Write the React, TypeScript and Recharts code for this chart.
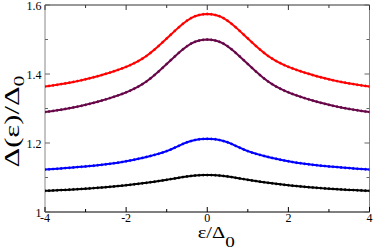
import React from 'react';
import { LineChart, Line, XAxis, YAxis } from 'recharts';

const epsilon = [
  -4.0, -3.9, -3.8, -3.7, -3.6, -3.5, -3.4, -3.3, -3.2, -3.1,
  -3.0, -2.9, -2.8, -2.7, -2.6, -2.5, -2.4, -2.3, -2.2, -2.1,
  -2.0, -1.9, -1.8, -1.7, -1.6, -1.5, -1.4, -1.3, -1.2, -1.1,
  -1.0, -0.9, -0.8, -0.7, -0.6, -0.5, -0.4, -0.3, -0.2, -0.1,
  0.0,
  0.1, 0.2, 0.3, 0.4, 0.5, 0.6, 0.7, 0.8, 0.9, 1.0,
  1.1, 1.2, 1.3, 1.4, 1.5, 1.6, 1.7, 1.8, 1.9, 2.0,
  2.1, 2.2, 2.3, 2.4, 2.5, 2.6, 2.7, 2.8, 2.9, 3.0,
  3.1, 3.2, 3.3, 3.4, 3.5, 3.6, 3.7, 3.8, 3.9, 4.0,
];

const redGap = [
  1.3637, 1.3653, 1.3670, 1.3688, 1.3707, 1.3727, 1.3748, 1.3770, 1.3794, 1.3819,
  1.3846, 1.3875, 1.3905, 1.3937, 1.3970, 1.4005, 1.4041, 1.4079, 1.4119, 1.4162,
  1.4208, 1.4258, 1.4314, 1.4376, 1.4445, 1.4522, 1.4612, 1.4709, 1.4812, 1.4920,
  1.5030, 1.5140, 1.5250, 1.5355, 1.5455, 1.5545, 1.5620, 1.5675, 1.5710, 1.5730,
  1.5740,
  1.5730, 1.5710, 1.5675, 1.5620, 1.5545, 1.5455, 1.5355, 1.5250, 1.5140, 1.5030,
  1.4920, 1.4812, 1.4709, 1.4612, 1.4522, 1.4445, 1.4376, 1.4314, 1.4258, 1.4208,
  1.4162, 1.4119, 1.4079, 1.4041, 1.4005, 1.3970, 1.3937, 1.3905, 1.3875, 1.3846,
  1.3819, 1.3794, 1.3770, 1.3748, 1.3727, 1.3707, 1.3688, 1.3670, 1.3653, 1.3637,
];

const purpleGap = [
  1.2897, 1.2913, 1.2930, 1.2948, 1.2967, 1.2987, 1.3008, 1.3030, 1.3054, 1.3079,
  1.3106, 1.3135, 1.3165, 1.3197, 1.3230, 1.3265, 1.3301, 1.3339, 1.3379, 1.3422,
  1.3468, 1.3518, 1.3574, 1.3636, 1.3705, 1.3782, 1.3872, 1.3969, 1.4072, 1.4180,
  1.4290, 1.4400, 1.4510, 1.4615, 1.4715, 1.4805, 1.4880, 1.4935, 1.4970, 1.4990,
  1.5000,
  1.4990, 1.4970, 1.4935, 1.4880, 1.4805, 1.4715, 1.4615, 1.4510, 1.4400, 1.4290,
  1.4180, 1.4072, 1.3969, 1.3872, 1.3782, 1.3705, 1.3636, 1.3574, 1.3518, 1.3468,
  1.3422, 1.3379, 1.3339, 1.3301, 1.3265, 1.3230, 1.3197, 1.3165, 1.3135, 1.3106,
  1.3079, 1.3054, 1.3030, 1.3008, 1.2987, 1.2967, 1.2948, 1.2930, 1.2913, 1.2897,
];

const blueGap = [
  1.1230, 1.1238, 1.1246, 1.1254, 1.1263, 1.1272, 1.1281, 1.1291, 1.1301, 1.1311,
  1.1321, 1.1332, 1.1343, 1.1355, 1.1368, 1.1382, 1.1397, 1.1413, 1.1430, 1.1449,
  1.1470, 1.1493, 1.1517, 1.1542, 1.1568, 1.1595, 1.1624, 1.1655, 1.1688, 1.1724,
  1.1765, 1.1812, 1.1864, 1.1919, 1.1973, 1.2020, 1.2057, 1.2087, 1.2107, 1.2117,
  1.2120,
  1.2117, 1.2107, 1.2087, 1.2057, 1.2020, 1.1973, 1.1919, 1.1864, 1.1812, 1.1765,
  1.1724, 1.1688, 1.1655, 1.1624, 1.1595, 1.1568, 1.1542, 1.1517, 1.1493, 1.1470,
  1.1449, 1.1430, 1.1413, 1.1397, 1.1382, 1.1368, 1.1355, 1.1343, 1.1332, 1.1321,
  1.1311, 1.1301, 1.1291, 1.1281, 1.1272, 1.1263, 1.1254, 1.1246, 1.1238, 1.1230,
];

const blackGap = [
  1.0614, 1.0619, 1.0624, 1.0629, 1.0635, 1.0641, 1.0647, 1.0654, 1.0661, 1.0668,
  1.0676, 1.0684, 1.0692, 1.0701, 1.0710, 1.0720, 1.0730, 1.0741, 1.0752, 1.0764,
  1.0776, 1.0789, 1.0802, 1.0816, 1.0831, 1.0846, 1.0862, 1.0879, 1.0897, 1.0915,
  1.0934, 1.0953, 1.0973, 1.0993, 1.1012, 1.1030, 1.1045, 1.1057, 1.1065, 1.1069,
  1.1070,
  1.1069, 1.1065, 1.1057, 1.1045, 1.1030, 1.1012, 1.0993, 1.0973, 1.0953, 1.0934,
  1.0915, 1.0897, 1.0879, 1.0862, 1.0846, 1.0831, 1.0816, 1.0802, 1.0789, 1.0776,
  1.0764, 1.0752, 1.0741, 1.0730, 1.0720, 1.0710, 1.0701, 1.0692, 1.0684, 1.0676,
  1.0668, 1.0661, 1.0654, 1.0647, 1.0641, 1.0635, 1.0629, 1.0624, 1.0619, 1.0614,
];

const xTicks = [-4, -3, -2, -1, 0, 1, 2, 3, 4];
const xMajor = [-4, -2, 0, 2, 4];
const xMajorLabels = ['-4', '-2', '0', '2', '4'];
const yTicks = [1, 1.1, 1.2, 1.3, 1.4, 1.5, 1.6];
const yMajor = [1, 1.2, 1.4, 1.6];
const yMajorLabels = ['1', '1.2', '1.4', '1.6'];

const data = epsilon.map((x, i) => ({
  x,
  red: redGap[i],
  purple: purpleGap[i],
  blue: blueGap[i],
  black: blackGap[i],
}));

const FONT = '"Liberation Serif", "Times New Roman", serif';
const MAJOR_LEN = 5;
const MINOR_LEN = 3;

const majorIndex = (v: number, majors: number[]) =>
  majors.findIndex((m) => Math.abs(m - v) < 1e-6);

const BottomTick = (props: any) => {
  const { x, y, payload } = props;
  const mi = majorIndex(payload.value, xMajor);
  const len = mi >= 0 ? MAJOR_LEN : MINOR_LEN;
  return (
    <g>
      <line x1={x} y1={y} x2={x} y2={y - len} stroke="#000" strokeWidth={1} />
      {mi >= 0 && (
        <text x={x} y={y + 10} textAnchor="middle" fontFamily={FONT} fontSize={12} fill="#000">
          {xMajorLabels[mi]}
        </text>
      )}
    </g>
  );
};

const TopTick = (props: any) => {
  const { x, y, payload } = props;
  const len = majorIndex(payload.value, xMajor) >= 0 ? MAJOR_LEN : MINOR_LEN;
  return <line x1={x} y1={y} x2={x} y2={y + len} stroke="#333" strokeWidth={1} />;
};

const LeftTick = (props: any) => {
  const { x, y, payload } = props;
  const mi = majorIndex(payload.value, yMajor);
  const len = mi >= 0 ? MAJOR_LEN : MINOR_LEN;
  return (
    <g>
      <line x1={x} y1={y} x2={x + len} y2={y} stroke="#666" strokeWidth={1} />
      {mi >= 0 && (
        <text x={x - 3.5} y={y + 4.5} textAnchor="end" fontFamily={FONT} fontSize={12} fill="#000">
          {yMajorLabels[mi]}
        </text>
      )}
    </g>
  );
};

const RightTick = (props: any) => {
  const { x, y, payload } = props;
  const len = majorIndex(payload.value, yMajor) >= 0 ? MAJOR_LEN : MINOR_LEN;
  return <line x1={x} y1={y} x2={x - len} y2={y} stroke="#666" strokeWidth={1} />;
};

const XLabel = (props: any) => {
  const vb = props.viewBox || { x: 0, y: 0, width: 0, height: 0 };
  const cx = vb.x + vb.width / 2 + 9;
  const by = vb.y + 26;
  return (
    <text
      x={cx}
      y={by}
      textAnchor="middle"
      fontFamily={FONT}
      fontSize={16}
      fill="#000"
      textLength={37}
      lengthAdjust="spacingAndGlyphs"
    >
      ε/Δ
      <tspan dy={9} fontSize={15}>0</tspan>
    </text>
  );
};

const YLabel = (props: any) => {
  const vb = props.viewBox || { x: 0, y: 0, width: 0, height: 0 };
  const cx = vb.x + 18.5;
  const cy = vb.y + vb.height / 2 + 13;
  return (
    <text
      x={cx}
      y={cy}
      transform={`rotate(-90, ${cx}, ${cy})`}
      textAnchor="middle"
      fontFamily={FONT}
      fontSize={21}
      fill="#000"
      textLength={92}
      lengthAdjust="spacingAndGlyphs"
    >
      Δ(ε)/Δ
      <tspan dy={5} fontSize={15}>0</tspan>
    </text>
  );
};

const series = [
  { key: 'black', color: '#000000' },
  { key: 'blue', color: '#0000ff' },
  { key: 'purple', color: '#670748' },
  { key: 'red', color: '#ff0000' },
];

export default function App() {
  return (
    <div style={{ position: 'absolute', left: 0, top: 0, width: 374, height: 249, background: '#fff' }}>
      <LineChart width={374} height={249} data={data} margin={{ top: 0, right: 0, bottom: 0, left: 0 }}>
        <XAxis
          dataKey="x"
          type="number"
          domain={[-4, 4]}
          ticks={xTicks}
          interval={0}
          height={37}
          tickSize={0}
          tickMargin={0}
          tickLine={false}
          axisLine={{ stroke: '#000', strokeWidth: 1 }}
          tick={BottomTick}
          label={XLabel}
          allowDataOverflow
        />
        <XAxis
          xAxisId="top"
          orientation="top"
          dataKey="x"
          type="number"
          domain={[-4, 4]}
          ticks={xTicks}
          interval={0}
          height={5}
          tickSize={0}
          tickMargin={0}
          tickLine={false}
          axisLine={{ stroke: '#333', strokeWidth: 1 }}
          tick={TopTick}
          allowDataOverflow
        />
        <YAxis
          type="number"
          domain={[1, 1.6]}
          ticks={yTicks}
          interval={0}
          width={45}
          tickSize={0}
          tickMargin={0}
          tickLine={false}
          axisLine={{ stroke: '#888', strokeWidth: 1 }}
          tick={LeftTick}
          label={YLabel}
          allowDataOverflow
        />
        <YAxis
          yAxisId="right"
          orientation="right"
          type="number"
          domain={[1, 1.6]}
          ticks={yTicks}
          interval={0}
          width={4.5}
          tickSize={0}
          tickMargin={0}
          tickLine={false}
          axisLine={{ stroke: '#888', strokeWidth: 1 }}
          tick={RightTick}
          allowDataOverflow
        />
        {series.map((s) => (
          <Line
            key={s.key}
            dataKey={s.key}
            type="linear"
            stroke={s.color}
            strokeWidth={2}
            dot={{ r: 1.1, fill: s.color, stroke: s.color, strokeWidth: 0.5 }}
            activeDot={false}
            isAnimationActive={false}
          />
        ))}
      </LineChart>
    </div>
  );
}
